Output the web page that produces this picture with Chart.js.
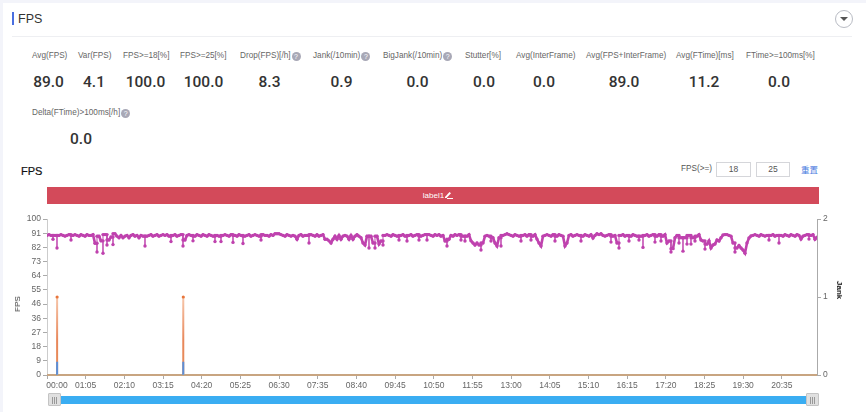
<!DOCTYPE html>
<html>
<head>
<meta charset="utf-8">
<title>FPS</title>
<script src="https://cdn.jsdelivr.net/npm/chart.js@4"></script>
<style>
html, body { margin: 0; padding: 0; }
body { width: 866px; height: 412px; overflow: hidden; background: #f3f4fa; position: relative; font-family: "Liberation Sans", Roboto, sans-serif; }
.card { position: absolute; left: 3px; top: 3px; width: 863px; height: 409px; background: #fff; }
.abs { position: absolute; white-space: nowrap; }
.mark { left: 12px; top: 12px; width: 2px; height: 13px; background: #4a6fe0; }
.section { left: 18px; top: 12px; font-size: 12.5px; line-height: 14px; color: #333; }
.rule { left: 12px; top: 36px; width: 840px; height: 1px; background: #eeeff2; }
.toggle { left: 835px; top: 10px; width: 16px; height: 16px; border: 1px solid #b9bcc4; border-radius: 50%; }
.toggle::after { content: ""; position: absolute; left: 4px; top: 6px; border: 4px solid transparent; border-top: 4px solid #555; }
.metric-label { font-size: 8.2px; line-height: 10px; color: #666; }
.metric-value { font-family: Roboto, sans-serif; font-weight: 500; font-size: 15.5px; line-height: 18px; color: #333; transform: translateX(-50%); }
.help { display: inline-block; width: 9px; height: 9px; margin-left: 1px; border-radius: 50%; background: #a8a8b6; color: #fff; font-size: 7px; line-height: 9px; text-align: center; vertical-align: -1px; }
.chart-title { left: 21px; top: 165px; font-size: 11px; line-height: 13px; color: #111; -webkit-text-stroke: .2px #111; }
.range-label { left: 681px; top: 164px; font-size: 8.2px; line-height: 10px; color: #555; }
.range-box { top: 162px; height: 13px; border: 1px solid #d5d6da; font-size: 8.5px; line-height: 13px; text-align: center; color: #555; }
.reset { left: 801px; top: 163px; font-family: "Noto Sans CJK SC", sans-serif; font-size: 8.5px; line-height: 12px; color: #4a7be0; }
.band { left: 47px; top: 187px; width: 772px; height: 17px; background: #d34a5a; color: #fff; font-size: 8px; line-height: 17px; text-align: center; text-indent: 10px; }
.band svg { vertical-align: -1px; }
.axis-name { font-size: 8px; line-height: 10px; transform: translate(-50%, -50%) rotate(-90deg); color: #333; }
.axis-name.right { transform: translate(-50%, -50%) rotate(90deg); color: #111; font-weight: bold; }
#fpsChart { position: absolute; left: 0; top: 210px; }
.slider { left: 55px; top: 396px; width: 757px; height: 8px; background: #3aadf2; }
.handle { top: 393px; width: 11px; height: 11px; border: 1px solid #c4c4c4; border-radius: 1px; background: #e0e0e0; color: #666; font-size: 7px; line-height: 11px; text-align: center; }
</style>
</head>
<body>
<div class="card"></div>
<div class="abs mark"></div>
<div class="abs section">FPS</div>
<div class="abs rule"></div>
<div class="abs toggle"></div>
<div id="metrics"></div>
<div class="abs chart-title">FPS</div>
<div class="abs range-label">FPS(&gt;=)</div>
<div class="abs range-box" style="left:716px;width:33px">18</div>
<div class="abs range-box" style="left:756px;width:32px">25</div>
<div class="abs reset">重置</div>
<div class="abs band">label1<svg width="9" height="8" viewBox="0 0 9 8"><path d="M1 6 L5.5 1 L7 2.2 L2.5 7 L1 7 Z" fill="#fff"/><rect x="3" y="7" width="6" height="1" fill="#fff"/></svg></div>
<canvas id="fpsChart" width="866" height="190"></canvas>
<div class="abs axis-name" style="left:18px;top:304px">FPS</div>
<div class="abs axis-name right" style="left:839px;top:290px">Jank</div>
<div class="abs slider"></div>
<div class="abs handle" style="left:48px">|||</div>
<div class="abs handle" style="left:806px">|||</div>

<script>
const metricLabels = ["Avg(FPS)", "Var(FPS)", "FPS>=18[%]", "FPS>=25[%]", "Drop(FPS)[/h]", "Jank(/10min)", "BigJank(/10min)", "Stutter[%]", "Avg(InterFrame)", "Avg(FPS+InterFrame)", "Avg(FTime)[ms]", "FTime>=100ms[%]", "Delta(FTime)>100ms[/h]"];
const metricValues = ["89.0", "4.1", "100.0", "100.0", "8.3", "0.9", "0.0", "0.0", "0.0", "89.0", "11.2", "0.0", "0.0"];
const metricsWithHelp = ["Drop(FPS)[/h]", "Jank(/10min)", "BigJank(/10min)", "Delta(FTime)>100ms[/h]"];

const xTickLabels = ["00:00", "01:05", "02:10", "03:15", "04:20", "05:25", "06:30", "07:35", "08:40", "09:45", "10:50", "11:55", "13:00", "14:05", "15:10", "16:15", "17:20", "18:25", "19:30", "20:35"];
const fpsTickLabels = ["0", "9", "18", "27", "36", "46", "55", "64", "73", "82", "91", "100"];
const jankTickLabels = ["0", "1", "2"];

// one sample every sampleMinutes
const sampleMinutes = 3.361;
const fpsValues = [
    89.5, 90, 89.5, 87, 89.5, 81.4, 89.5, 90, 89.5, 89,
    89.5, 90, 86.5, 89.5, 90, 89.5, 89, 90, 89.5, 89,
    90, 89.5, 89.5, 90, 84.5, 78.8, 89, 86, 78, 90,
    83.3, 86.5, 88.5, 83.6, 90.5, 89, 88, 89.5, 88, 89,
    89.5, 88, 89.5, 90, 89, 89.5, 88, 89.5, 89, 82.7,
    89, 89.5, 90, 89, 89.5, 90, 89, 89.5, 90, 89.5,
    90, 89, 85.5, 89.5, 90, 89, 89.5, 90, 82.7, 86.5,
    89.5, 90, 89.5, 86, 89, 90, 89.5, 89, 90, 89.5,
    89, 90, 89.5, 89, 85.5, 89.5, 89, 85.5, 89.5, 90,
    89.5, 89, 90, 85, 89.5, 89, 90, 89.5, 84.3, 89,
    89.5, 90, 89, 89.5, 90, 89.5, 89, 86.5, 90, 89.5,
    89.5, 89, 90, 89.5, 90.5, 90.5, 90.5, 90, 89.5, 89,
    90, 89.5, 89, 89.5, 89, 87, 89.5, 90, 89, 89.5,
    89.5, 84.6, 90, 89.5, 89, 90, 89, 89.5, 90, 87,
    87, 86, 84.6, 87, 89, 87, 89.5, 87, 89, 89.5,
    89, 87, 89.5, 87, 89, 90, 89, 88, 84.6, 83.3,
    89, 81.4, 89, 84.6, 81.4, 89, 83.9, 85.9, 83.3, 89.5,
    90, 89.5, 89, 90, 89.5, 89, 86.5, 89.5, 90, 89,
    85.9, 89.5, 90, 89, 89.5, 90, 86.5, 89, 89.5, 90,
    86.5, 90, 89.5, 89, 90, 89.5, 90, 89, 89.5, 85.9,
    82.7, 87, 89.5, 89, 90, 89.5, 90, 86.5, 89, 85.9,
    89, 90, 86, 84.6, 83.3, 84.6, 83.3, 80.1, 84.6, 89,
    89.5, 89, 85.9, 88, 84.6, 82.7, 88, 82.7, 89.5, 90,
    90.5, 90, 89.5, 89, 90, 89.5, 89, 85.9, 89.5, 90,
    89, 90, 86.5, 89, 90, 87.1, 84.6, 82.7, 89, 89.5,
    90, 89.5, 89, 90, 85.9, 89, 90, 89.5, 89, 82.7,
    84.6, 89.5, 90, 89, 89.5, 90, 89.5, 85.9, 89, 90,
    89.5, 89, 90, 87.8, 89.5, 90.5, 90, 90.5, 89.5, 89,
    89.5, 90, 85.2, 89, 89.5, 84.6, 81.4, 89.5, 90, 89,
    89.5, 85.9, 89, 90, 89.5, 89, 86.5, 89, 81.8, 89.5,
    90, 89, 89.5, 90, 85.2, 89, 90, 85.9, 89, 90,
    84.6, 85.9, 78.8, 81, 88, 89.5, 84.6, 88, 79.4, 88,
    83.9, 89.5, 83.9, 88, 85.9, 89, 90, 86.5, 85.9, 80.7,
    83.9, 86, 81.4, 83.3, 84, 86.5, 85.9, 88, 89.7, 90,
    90, 89.5, 89, 84.6, 78.8, 81.4, 83, 81.4, 80.1, 78.1,
    84.6, 87.8, 89.1, 89.5, 90, 89.5, 89, 90, 89.5, 89,
    89.5, 86.5, 89.5, 90, 89, 89.5, 84.6, 89.5, 89, 90,
    89.5, 89, 90, 89.5, 89, 90, 89.5, 87.1, 89, 89.5,
    90, 87.1, 89.5, 90, 87, 88.4
];

const timeRangeMinutes = 1294;
const jankMinutes = [0, 17, 17, 17, 229, 229, 229, 1294];
const jankValues = [0, 0, 1, 0, 0, 1, 0, 0];
const lowSeriesMinutes = [0, 17, 17, 17, 229, 229, 229, 1294];
const lowSeriesValues = [0, 0, 8.5, 0, 0, 8.5, 0, 0];

const metricLabelLeft = [32, 78, 123, 180, 240, 313, 383, 465, 516, 586, 676, 746, 32];
const metricValueCenter = [48.5, 94, 145.5, 203.5, 269.5, 341.5, 417.5, 484, 544, 624, 704, 779, 81];

const metricsBlock = document.getElementById("metrics");
metricLabels.forEach((label, index) => {
    const row = index === 12 ? 57 : 0;
    const labelDiv = document.createElement("div");
    labelDiv.className = "abs metric-label";
    labelDiv.style.left = metricLabelLeft[index] + "px";
    labelDiv.style.top = 51 + row + "px";
    labelDiv.textContent = label;
    if (metricsWithHelp.includes(label)) {
        const help = document.createElement("span");
        help.className = "help";
        help.textContent = "?";
        labelDiv.appendChild(help);
    }
    const valueDiv = document.createElement("div");
    valueDiv.className = "abs metric-value";
    valueDiv.style.left = metricValueCenter[index] + "px";
    valueDiv.style.top = 73 + row + "px";
    valueDiv.textContent = metricValues[index];
    metricsBlock.appendChild(labelDiv);
    metricsBlock.appendChild(valueDiv);
});

function toMinutes(label) {
    const parts = label.split(":");
    return Number(parts[0]) * 60 + Number(parts[1]);
}

// the samples are too far apart for the real needle shape, so a lone dip goes straight down and up
function buildFpsPoints() {
    const points = [];
    fpsValues.forEach((value, index) => {
        const x = index * sampleMinutes;
        const prev = index > 0 ? fpsValues[index - 1] : value;
        const next = index < fpsValues.length - 1 ? fpsValues[index + 1] : value;
        if (value < prev - 2 && value < next - 2) {
            points.push({ x: x, y: prev }, { x: x, y: value }, { x: x, y: next });
        } else {
            points.push({ x: x, y: value });
        }
    });
    return points;
}

function jankColor(context) {
    const area = context.chart.chartArea;
    if (!area) return "#e88c5a";
    const gradient = context.chart.ctx.createLinearGradient(0, area.top, 0, area.bottom);
    gradient.addColorStop(0, "#f6c6aa");
    gradient.addColorStop(0.5, "#f6c6aa");
    gradient.addColorStop(0.78, "#e8875a");
    gradient.addColorStop(1, "#e68c58");
    return gradient;
}

// echarts shifts the first label into the plot, chart.js has no per tick align
const firstLabelPlugin = {
    id: "firstLabel",
    afterDraw(chart) {
        const ctx = chart.ctx;
        ctx.save();
        ctx.font = '8.5px "Liberation Sans"';
        ctx.fillStyle = "#666";
        ctx.textAlign = "center";
        ctx.textBaseline = "top";
        ctx.fillText(xTickLabels[0], chart.scales.x.getPixelForValue(0) + 10, chart.scales.x.top + 6);
        ctx.restore();
    },
};

new Chart(document.getElementById("fpsChart"), {
    type: "line",
    data: {
        datasets: [
            {
                label: "FPS",
                data: buildFpsPoints(),
                yAxisID: "y",
                borderColor: "#bf42ae",
                backgroundColor: "#bf42ae",
                borderWidth: 2.6,
                pointRadius: 1.7,
                pointBorderWidth: 0,
                segment: {
                    borderWidth: (ctx) => (ctx.p0.parsed.x === ctx.p1.parsed.x ? 1 : undefined),
                },
                order: 0,
            },
            {
                label: "Low",
                data: lowSeriesValues.map((value, index) => ({ x: lowSeriesMinutes[index], y: value })),
                yAxisID: "y",
                borderColor: "#5b8fd8",
                borderWidth: 2,
                pointRadius: 0,
                clip: false,
                segment: {
                    borderColor: (ctx) => (ctx.p0.parsed.y === 0 && ctx.p1.parsed.y === 0 ? "rgba(170, 190, 170, 0.5)" : "#5b8fd8"),
                },
                order: 1,
            },
            {
                label: "Jank",
                data: jankValues.map((value, index) => ({ x: jankMinutes[index], y: value })),
                yAxisID: "jank",
                borderColor: jankColor,
                backgroundColor: "#e8763c",
                pointBorderColor: "#e8763c",
                pointBorderWidth: 0,
                borderWidth: 2,
                pointRadius: (ctx) => (ctx.raw && ctx.raw.y > 0 ? 1.6 : 0),
                clip: false,
                order: 2,
            },
        ],
    },
    options: {
        responsive: false,
        animation: false,
        layout: { padding: { top: 9 } },
        plugins: { legend: { display: false } },
        scales: {
            x: {
                type: "linear",
                min: 0,
                max: timeRangeMinutes,
                afterFit: (scale) => { scale.height = 25; },
                afterBuildTicks: (scale) => { scale.ticks = xTickLabels.map((label) => ({ value: toMinutes(label) })); },
                grid: { drawOnChartArea: false, tickLength: 4, color: "#aaa" },
                border: { color: "#ccc" },
                ticks: {
                    autoSkip: false,
                    maxRotation: 0,
                    padding: 2,
                    color: "#666",
                    font: { family: "Liberation Sans", size: 8.5 },
                    callback: (value, index) => (index === 0 ? "" : xTickLabels[index]),
                },
            },
            y: {
                position: "left",
                min: 0,
                max: 100,
                afterFit: (scale) => { scale.width = 47; },
                afterBuildTicks: (scale) => { scale.ticks = fpsTickLabels.map((label, index) => ({ value: (index * 100) / 11 })); },
                grid: { drawOnChartArea: false, tickLength: 4, color: "#aaa" },
                border: { color: "#ccc" },
                ticks: {
                    padding: 2,
                    color: "#666",
                    font: { family: "Liberation Sans", size: 8.5 },
                    callback: (value, index) => fpsTickLabels[index],
                },
            },
            jank: {
                position: "right",
                min: 0,
                max: 2,
                afterFit: (scale) => { scale.width = 49; },
                afterBuildTicks: (scale) => { scale.ticks = jankTickLabels.map((label) => ({ value: Number(label) })); },
                grid: { drawOnChartArea: false, tickLength: 4, color: "#aaa" },
                border: { color: "#aaa" },
                ticks: {
                    padding: 2,
                    color: "#666",
                    font: { family: "Liberation Sans", size: 8.5 },
                    callback: (value, index) => jankTickLabels[index],
                },
            },
        },
    },
    plugins: [firstLabelPlugin],
});
</script>
</body>
</html>
